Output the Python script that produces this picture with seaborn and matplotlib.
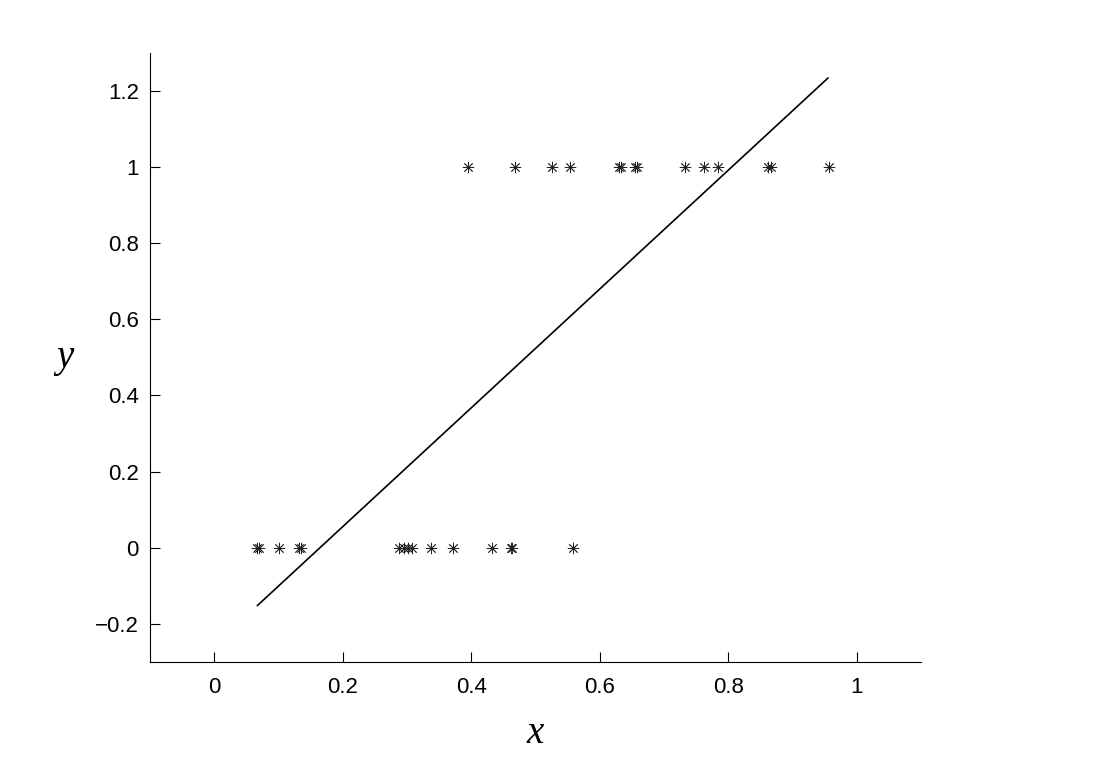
import numpy as np
import pandas as pd
import matplotlib
matplotlib.use("Agg")
import matplotlib.pyplot as plt
import seaborn as sns

# Data
x_class0 = [0.066, 0.070, 0.101, 0.132, 0.135, 0.287, 0.295, 0.301, 0.307,
            0.338, 0.371, 0.432, 0.461, 0.464, 0.558]
x_class1 = [0.395, 0.468, 0.525, 0.553, 0.630, 0.633, 0.655, 0.658, 0.733,
            0.762, 0.784, 0.861, 0.867, 0.956]

# fitted line end points
line_x = [0.067, 0.955]
line_y = [-0.152, 1.234]

x_ticks = [0, 0.2, 0.4, 0.6, 0.8, 1]
y_ticks = [-0.2, 0, 0.2, 0.4, 0.6, 0.8, 1, 1.2]

df = pd.DataFrame({
    "x": x_class0 + x_class1,
    "y": [0] * len(x_class0) + [1] * len(x_class1),
})
df_line = pd.DataFrame({"x": line_x, "y": line_y})

sns.set_style("ticks")
plt.rcParams["font.family"] = ["Liberation Sans", "DejaVu Sans"]

fig = plt.figure(figsize=(11.05, 7.77), dpi=100)
ax = fig.add_axes([0.1357, 0.148, 0.698, 0.784])

sns.scatterplot(data=df, x="x", y="y", ax=ax, marker=(8, 2, 0), s=60,
                color="#222222", linewidth=0.6, edgecolor="#222222")
sns.lineplot(data=df_line, x="x", y="y", ax=ax, color="black", linewidth=1.2)

ax.set_xlim(-0.1, 1.1)
ax.set_ylim(-0.3, 1.3)
ax.set_xticks(x_ticks)
ax.set_xticklabels(["0", "0.2", "0.4", "0.6", "0.8", "1"])
ax.set_yticks(y_ticks)
ax.set_yticklabels(["\u22120.2", "0", "0.2", "0.4", "0.6", "0.8", "1", "1.2"])
ax.tick_params(direction="in", labelsize=16, length=7, width=0.8,
               colors="black")
ax.tick_params(axis="x", pad=11)
ax.tick_params(axis="y", pad=8)

sns.despine(ax=ax)
for s in ["left", "bottom"]:
    ax.spines[s].set_linewidth(0.8)
    ax.spines[s].set_color("black")

ax.set_xlabel("x", fontsize=28, family="Liberation Serif", style="italic",
              labelpad=12, color="black")
ax.set_ylabel("y", fontsize=28, family="Liberation Serif", style="italic",
              rotation=0, labelpad=22, va="center", color="black")

fig.savefig("out.png", dpi=100)
